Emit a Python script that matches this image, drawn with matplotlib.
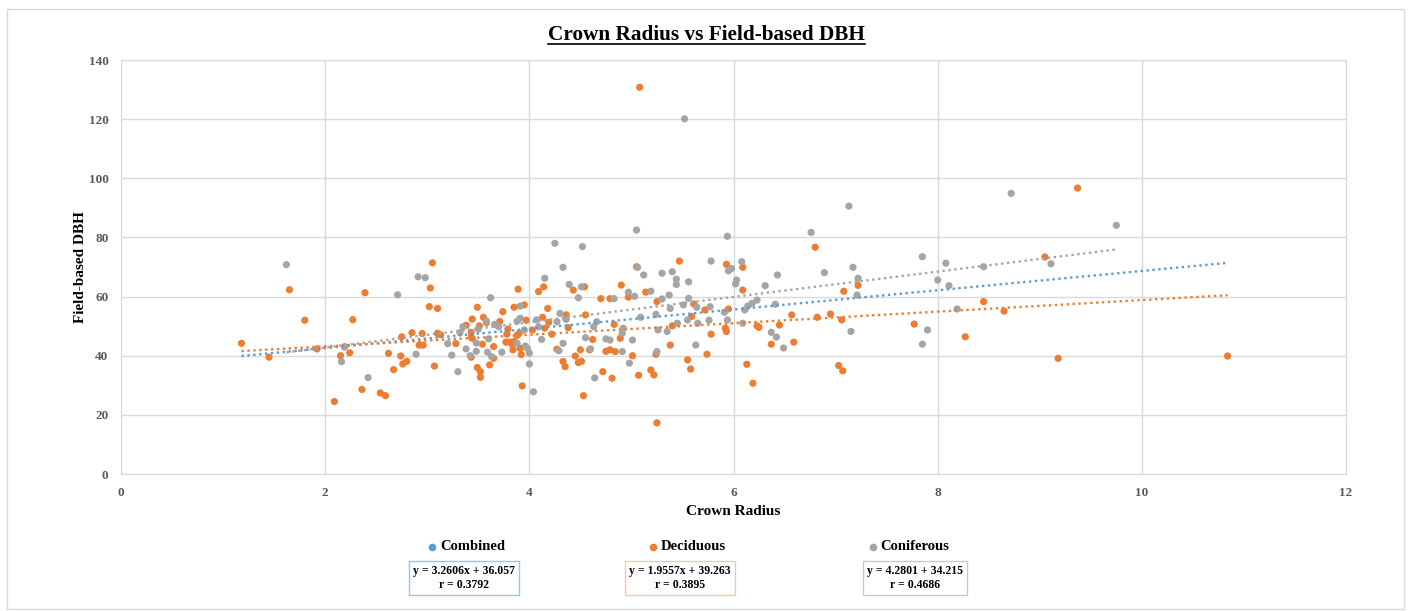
import matplotlib.pyplot as plt
from matplotlib.lines import Line2D
from matplotlib.patches import Rectangle
import numpy as np

# --------------- crown radius / DBH measurements ------------------

decid_radius = [1.18, 1.45, 1.65, 1.80, 1.92, 2.09, 2.15, 2.19, 2.24, 2.27, 2.36, 2.39, 2.54, 2.59,
                2.62, 2.67, 2.74, 2.75, 2.76, 2.80, 2.85, 2.92, 2.96, 2.95, 3.02, 3.03, 3.05, 3.07,
                3.10, 3.10, 3.13, 3.28, 3.38, 3.43, 3.44, 3.43, 3.44, 3.49, 3.49, 3.52, 3.52, 3.51,
                3.43, 3.54, 3.55, 3.58, 3.65, 3.65, 3.61, 3.71, 3.74, 3.79, 3.77, 3.78, 3.81, 3.83,
                3.84, 3.85, 3.89, 3.95, 3.97, 3.88, 3.90, 3.85, 3.91, 3.92, 3.93, 4.03, 4.09, 4.14,
                4.18, 4.13, 4.15, 4.19, 4.22, 4.27, 4.33, 4.35, 4.36, 4.38, 4.43, 4.54, 4.55, 4.62,
                4.45, 4.50, 4.51, 4.59, 4.48, 4.53, 4.72, 4.70, 4.79, 4.83, 4.75, 4.79, 4.81, 4.84,
                4.90, 4.89, 4.97, 5.01, 5.05, 5.14, 5.07, 5.19, 5.22, 5.08, 5.47, 5.93, 6.09, 6.09,
                6.80, 5.25, 5.61, 5.72, 5.40, 5.59, 5.78, 5.95, 5.92, 5.93, 6.23, 6.25, 6.45, 6.37,
                6.59, 6.57, 6.82, 5.38, 5.74, 5.55, 5.58, 5.24, 6.13, 6.19, 5.25, 7.22, 7.08, 6.95,
                7.06, 7.03, 7.07, 7.77, 8.45, 8.27, 9.37, 9.05, 8.65, 9.18, 10.84]
decid_dbh = [44.2, 39.5, 62.3, 52.0, 42.3, 24.5, 40.0, 43.0, 41.0, 52.2, 28.6, 61.3, 27.4, 26.5,
             40.8, 35.3, 39.9, 46.4, 37.2, 38.1, 47.8, 43.6, 43.6, 47.5, 56.6, 62.9, 71.4, 36.5,
             56.0, 47.6, 47.1, 44.1, 50.3, 47.9, 52.4, 39.5, 45.9, 56.4, 36.0, 34.6, 32.7, 50.1,
             46.2, 43.9, 53.0, 51.2, 43.1, 39.1, 36.9, 51.6, 54.9, 49.0, 44.6, 47.3, 44.6, 43.9,
             42.0, 56.4, 62.5, 57.2, 52.0, 46.9, 47.6, 44.8, 42.5, 40.4, 29.8, 48.7, 61.7, 63.3,
             56.0, 53.0, 49.3, 51.3, 47.3, 42.2, 38.1, 36.3, 53.8, 49.5, 62.2, 63.3, 53.8, 45.5,
             39.9, 42.0, 38.1, 42.0, 37.7, 26.5, 34.6, 59.3, 59.3, 50.6, 41.5, 42.0, 32.4, 41.4,
             63.9, 45.9, 59.8, 40.0, 70.1, 61.5, 33.4, 35.2, 33.5, 130.8, 72.0, 70.9, 69.9, 62.2,
             76.7, 58.3, 57.5, 55.5, 50.1, 53.3, 47.3, 55.8, 49.3, 48.2, 50.1, 49.6, 50.4, 43.9,
             44.6, 53.8, 53.0, 43.6, 40.5, 38.6, 35.5, 40.5, 37.1, 30.7, 17.3, 63.8, 61.8, 54.1,
             52.1, 36.7, 34.9, 50.7, 58.3, 46.4, 96.7, 73.4, 55.1, 39.1, 39.9]

conif_radius = [1.62, 2.16, 2.19, 2.42, 2.71, 2.89, 2.91, 2.98, 3.20, 3.24, 3.30, 3.32, 3.35, 3.38,
                3.42, 3.48, 3.50, 3.62, 3.58, 3.48, 3.60, 3.59, 3.63, 3.66, 3.70, 3.73, 3.91, 3.88,
                3.91, 3.88, 3.96, 3.98, 4.00, 4.00, 4.04, 3.95, 4.07, 4.09, 4.15, 4.12, 4.25, 4.27,
                4.30, 4.29, 4.33, 4.33, 4.36, 4.39, 4.48, 4.52, 4.51, 4.55, 4.63, 4.66, 4.60, 4.64,
                4.83, 4.75, 4.79, 4.91, 4.92, 4.91, 4.97, 5.01, 4.98, 5.03, 5.06, 5.05, 5.12, 5.09,
                5.52, 5.94, 5.78, 5.98, 5.95, 6.08, 6.03, 6.02, 6.76, 6.43, 6.31, 5.19, 5.30, 5.40,
                5.44, 5.44, 5.56, 5.30, 5.37, 5.38, 5.56, 5.51, 5.64, 5.77, 5.24, 5.26, 5.35, 5.45,
                5.55, 5.65, 5.76, 5.91, 5.94, 6.09, 6.11, 6.14, 6.18, 6.23, 6.41, 6.37, 6.42, 6.49,
                5.63, 5.25, 7.13, 6.89, 7.17, 7.22, 7.21, 7.15, 7.85, 8.08, 8.00, 8.11, 8.45, 7.90,
                7.85, 8.19, 8.72, 9.75, 9.11]
conif_dbh = [70.8, 38.0, 43.0, 32.6, 60.6, 40.5, 66.7, 66.4, 44.1, 40.2, 34.6, 47.8, 49.8, 42.3,
             40.0, 41.5, 49.0, 59.6, 51.7, 44.3, 45.7, 41.2, 39.7, 50.6, 49.8, 41.2, 56.8, 51.7,
             52.7, 44.2, 43.3, 42.5, 40.9, 37.2, 27.8, 48.7, 52.1, 49.8, 66.2, 45.5, 78.0, 51.5,
             54.3, 41.7, 44.2, 69.9, 52.3, 64.1, 59.6, 76.9, 63.3, 46.1, 49.8, 51.5, 42.3, 32.5,
             59.3, 45.7, 45.3, 41.4, 49.3, 47.6, 61.5, 45.3, 37.5, 60.1, 69.9, 82.5, 67.3, 53.0,
             120.1, 80.4, 72.0, 69.5, 68.7, 71.8, 65.6, 64.3, 81.7, 67.3, 63.7, 61.8, 67.9, 68.4,
             65.9, 64.1, 65.0, 59.2, 60.5, 56.0, 59.4, 57.2, 56.4, 56.6, 54.0, 48.7, 48.2, 51.0,
             52.1, 51.0, 52.0, 54.7, 52.1, 51.0, 55.5, 56.8, 57.7, 58.8, 57.4, 47.9, 46.3, 42.6,
             43.6, 41.4, 90.6, 68.1, 69.9, 66.2, 60.5, 48.2, 73.5, 71.3, 65.6, 63.7, 70.1, 48.7,
             43.9, 55.8, 94.9, 84.1, 71.1]

# linear trend per group: combined, deciduous, coniferous
groups = ['Combined', 'Deciduous', 'Coniferous']
slopes = [3.2606, 1.9557, 4.2801]
intercepts = [36.057, 39.263, 34.215]
r_values = [0.3792, 0.3895, 0.4686]
eq_labels = ['y = 3.2606x + 36.057', 'y = 1.9557x + 39.263', 'y = 4.2801 + 34.215']

colors = ['#5B9BD5', '#ED7D31', '#A5A5A5']
box_edges = ['#9DC3E6', '#F4C8A4', '#C9C9C9']

serif = 'Liberation Serif'
tick_grey = '#595959'
grid_grey = '#D9D9D9'

W, H = 1409, 611
fig = plt.figure(figsize=(W / 100, H / 100), dpi=100)
ax = fig.add_axes([0.0859, 0.2242, 0.8694, 0.6776])

ax.scatter(decid_radius, decid_dbh, s=27, color=colors[1], edgecolors='none', zorder=3)
ax.scatter(conif_radius, conif_dbh, s=27, color=colors[2], edgecolors='none', zorder=4)

all_radius = decid_radius + conif_radius
x_ranges = [(min(all_radius), max(all_radius)),
            (min(decid_radius), max(decid_radius)),
            (min(conif_radius), max(conif_radius))]
for m, b, (lo, hi), c in zip(slopes, intercepts, x_ranges, colors):
    xs = np.array([lo, hi])
    ax.plot(xs, m * xs + b, color=c, lw=1.7, linestyle=(0, (1, 1.5)), zorder=5)

ax.set_xlim(0, 12)
ax.set_ylim(0, 140)
ax.set_xticks(range(0, 13, 2))
ax.set_yticks(range(0, 141, 20))
ax.grid(True, color=grid_grey, lw=1)
ax.set_axisbelow(True)
for sp in ax.spines.values():
    sp.set_color(grid_grey)
ax.tick_params(length=0, pad=9, colors=tick_grey)
for lab in ax.get_xticklabels() + ax.get_yticklabels():
    lab.set_fontfamily(serif)
    lab.set_fontweight('bold')
    lab.set_fontsize(9.5)

ax.set_xlabel('Crown Radius', fontfamily=serif, fontweight='bold', fontsize=11, labelpad=4.5)
ax.set_ylabel('Field-based DBH', fontfamily=serif, fontweight='bold', fontsize=11, labelpad=1)

title = fig.text(0.5017, 0.935, 'Crown Radius vs Field-based DBH', ha='center', va='baseline',
                 fontfamily=serif, fontweight='bold', fontsize=15.3)

# legend entries (pixel positions: marker, label start, box centre)
marker_px = [432, 653, 873]
label_px = [440, 661, 880]
box_px = [464, 680, 915]
for i, name in enumerate(groups):
    fig.add_artist(Line2D([marker_px[i] / W], [1 - 547 / H], marker='o', markersize=5.5,
                          color=colors[i], markeredgecolor='none', transform=fig.transFigure))
    fig.text(label_px[i] / W, 1 - 547 / H, name, ha='left', va='center', fontfamily=serif,
             fontweight='bold', fontsize=10.5)
    fig.text(box_px[i] / W, 1 - 578 / H, f'{eq_labels[i]}\nr = {r_values[i]}', ha='center',
             va='center', multialignment='center', fontfamily=serif, fontweight='bold',
             fontsize=8.5, linespacing=1.25,
             bbox=dict(boxstyle='square,pad=0.32', fc='white', ec=box_edges[i], lw=1))

# outer chart border
fig.add_artist(Rectangle((7 / W, 2 / H), 1397 / W, 600 / H, transform=fig.transFigure,
                         fill=False, ec='#D9D9D9', lw=1))

# underline the title
fig.canvas.draw()
bb = title.get_window_extent().transformed(fig.transFigure.inverted())
fig.add_artist(Line2D([bb.x0, bb.x1], [0.928, 0.928], color='black', lw=1.2,
                      transform=fig.transFigure))

fig.savefig('out.png', dpi=100, facecolor='white')
